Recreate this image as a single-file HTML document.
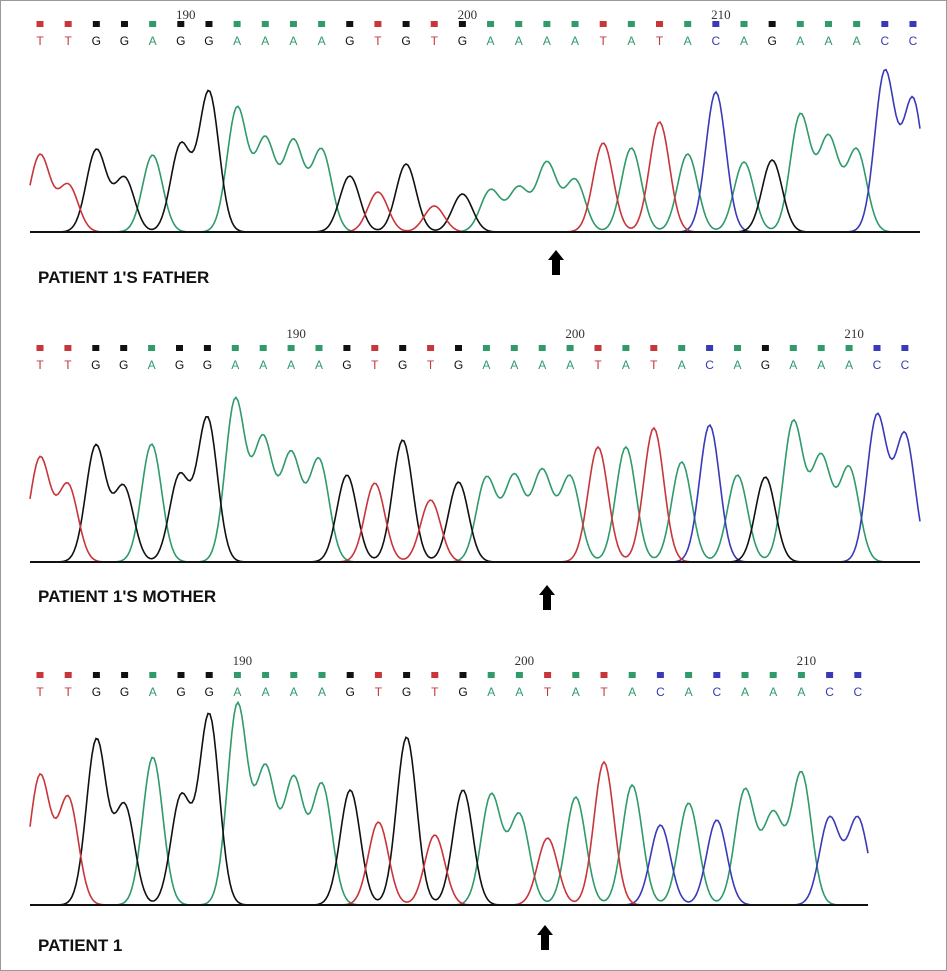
<!DOCTYPE html>
<html><head><meta charset="utf-8"><style>
body{margin:0;background:#fff;}
svg{display:block;font-family:"Liberation Sans",sans-serif;}
</style></head><body>
<svg id="fig" width="947" height="971" viewBox="0 0 947 971">
<rect x="0.5" y="0.5" width="946" height="970" fill="#fff" stroke="#999"/>
</svg>
<script>
const bases1 = "TTGGAGGAAAAGTGTGAAAATATACAGAAACC".split('');
const heights1 = [77,47,82,54,77,87,140,124,92,90,82,56,40,68,26,38,42,44,69,52,89,84,110,78,140,70,72,117,94,82,160,132];
const bases2 = "TTGGAGGAAAAGTGTGAAAATATACAGAAACC".split('');
const heights2 = [104,77,116,75,118,86,144,162,122,107,102,87,79,122,62,80,84,85,90,85,115,115,134,100,137,87,85,140,104,94,146,127];
const bases3 = "TTGGAGGAAAAGTGTGAATATACACAAACC".split('');
const heights3 = [129,107,165,99,148,108,190,200,135,125,120,115,83,168,70,115,110,90,67,108,143,120,80,102,85,115,90,132,87,87];
const tickPositions1 = [5,15,24]; const tickLabels1 = ["190","200","210"];
const tickPositions2 = [9,19,29]; const tickLabels2 = ["190","200","210"];
const tickPositions3 = [7,17,27]; const tickLabels3 = ["190","200","210"];
const titles = ["PATIENT 1'S FATHER","PATIENT 1'S MOTHER","PATIENT 1"];

const NS="http://www.w3.org/2000/svg";
const svg=document.getElementById('fig');
const col={A:'#2f9a6a',C:'#3a3ab8',G:'#111',T:'#c8353a'};
function mk(tag,attrs,parent){const e=document.createElementNS(NS,tag);for(const k in attrs)e.setAttribute(k,attrs[k]);(parent||svg).appendChild(e);return e;}

const panels=[
 {bases:bases1,h:heights1,tp:tickPositions1,tl:tickLabels1,x0:40,sp:28.16,base:232,sq:21,let:45,num:19,xEnd:920,title:277,arrow:556,ay:250},
 {bases:bases2,h:heights2,tp:tickPositions2,tl:tickLabels2,x0:40,sp:27.9,base:562,sq:345,let:369,num:338,xEnd:920,title:596,arrow:547,ay:585},
 {bases:bases3,h:heights3,tp:tickPositions3,tl:tickLabels3,x0:40,sp:28.2,base:905,sq:672,let:696,num:665,xEnd:868,title:945,arrow:545,ay:925}
];
panels.forEach((p,pi)=>{
 const g=mk('g',{});
 
 
 const xs=i=>p.x0+i*p.sp;
 p.tp.forEach((t,k)=>{
  const tx=mk('text',{x:xs(t)+5,y:p.num,'font-size':13,'text-anchor':'middle',fill:'#333','font-family':'Liberation Serif,serif'},g);
  tx.textContent=p.tl[k];
  
  
 });
 p.bases.forEach((b,i)=>{
  const r=mk('rect',{x:xs(i)-3.5,y:p.sq,width:7,height:6,fill:col[b]},g);
  
  
  const t=mk('text',{x:xs(i),y:p.let,'font-size':12,'text-anchor':'middle',fill:col[b]},g);
  t.textContent=b;
  
  
 });
 ['A','C','G','T'].forEach(ch=>{
  let pts=[];
  for(let x=30;x<=p.xEnd;x+=2){
   let v=0;
   p.bases.forEach((b,i)=>{if(b===ch){const d=(x-xs(i))/10;v+=p.h[i]*Math.exp(-d*d/2);}});
   pts.push(x+','+(p.base-v).toFixed(1));
  }
  const pl=mk('polyline',{points:pts.join(' '),fill:'none',stroke:col[ch],'stroke-width':1.6},g);
  
  
 });
 const bl=mk('line',{x1:30,x2:p.xEnd,y1:p.base,y2:p.base,stroke:'#111','stroke-width':2},g);
 
 
 const tt=mk('text',{x:38,y:p.title+6,'font-size':17,'font-weight':'bold',fill:'#111'},g);
 tt.textContent=titles[pi];
 
 
 const a=p.arrow,y=p.ay;
 const ar=mk('path',{d:`M${a} ${y} L${a+8} ${y+10} L${a+4} ${y+10} L${a+4} ${y+25} L${a-4} ${y+25} L${a-4} ${y+10} L${a-8} ${y+10} Z`,fill:'#000'},g);
 
 
});
</script>
</body></html>
